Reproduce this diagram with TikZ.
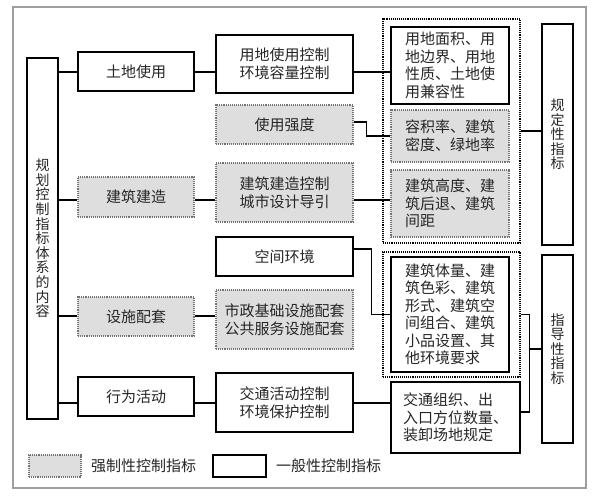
\documentclass[tikz,border=0pt]{standalone}
\usepackage{fontspec}
\setmainfont{Noto Sans CJK SC}
\begin{document}
\begin{tikzpicture}[x=1pt,y=-1pt,
  txt/.style={text=black!85, font=\fontsize{15}{18}\selectfont},
  wbox/.style={txt, draw=black, line width=1.1pt, fill=white, inner sep=0pt, align=center},
  gbox/.style={txt, draw=black!55, densely dotted, line width=1.1pt, fill=black!13, inner sep=0pt, align=center},
  grp/.style={draw=black, densely dotted, line width=1.1pt, inner sep=0pt},
  vtxt/.style={font=\fontsize{14}{14.6}\selectfont},
  ltxt/.style={align=left, font=\fontsize{15}{17.5}\selectfont},
  conn/.style={draw=black, line width=1.2pt}
]
\useasboundingbox (0,0) rectangle (598,497);
\fill[white] (0,0) rectangle (598,497);
\draw[black!38, line width=1.4pt] (13,7) rectangle (586,488);

% groups
\node[grp, minimum width=137pt, minimum height=224pt] (g1) at (451.5,131) {};
\node[grp, minimum width=137pt, minimum height=125pt] (g2) at (451.5,314.5) {};

% main
\node[wbox, vtxt, minimum width=31pt, minimum height=361pt] (main) at (42.5,238.5) {规\\划\\控\\制\\指\\标\\体\\系\\的\\内\\容};

% column 2
\node[wbox, minimum width=116pt, minimum height=39pt] (c2a) at (136,71.5) {土地使用};
\node[gbox, minimum width=116pt, minimum height=40pt] (c2b) at (136,197) {建筑建造};
\node[gbox, minimum width=116pt, minimum height=39pt] (c2c) at (136,316.5) {设施配套};
\node[wbox, minimum width=116pt, minimum height=39pt] (c2d) at (136,396.5) {行为活动};

% column 3
\node[wbox, minimum width=137pt, minimum height=58pt] (c3a) at (284.5,64) {用地使用控制\\环境容量控制};
\node[gbox, minimum width=137pt, minimum height=39pt] (c3b) at (284.5,124.5) {使用强度};
\node[gbox, minimum width=137pt, minimum height=59pt] (c3c) at (284.5,192.5) {建筑建造控制\\城市设计导引};
\node[wbox, minimum width=137pt, minimum height=39pt] (c3d) at (284.5,256.5) {空间环境};
\node[gbox, minimum width=137pt, minimum height=59pt] (c3e) at (284.5,319.5) {市政基础设施配套\\公共服务设施配套};
\node[wbox, minimum width=137pt, minimum height=59pt] (c3f) at (284.5,402.5) {交通活动控制\\环境保护控制};

% column 4
\node[wbox, ltxt, minimum width=118pt, minimum height=77pt] (c4a) at (450,65.5) {用地面积、用\\地边界、用地\\性质、土地使\\用兼容性};
\node[gbox, ltxt, minimum width=118pt, minimum height=52pt] (c4b) at (450,136) {容积率、建筑\\密度、绿地率};
\node[gbox, ltxt, minimum width=118pt, minimum height=67pt] (c4c) at (450,203.5) {建筑高度、建\\筑后退、建筑\\间距\phantom{、建筑}};
\node[wbox, ltxt, minimum width=118pt, minimum height=115pt] (c4d) at (450,314.5) {建筑体量、建\\筑色彩、建筑\\形式、建筑空\\间组合、建筑\\小品设置、其\\他环境要求};
\node[wbox, ltxt, minimum width=129pt, minimum height=71pt] (c4e) at (455.5,417.5) {交通组织、出\\入口方位数量、\\装卸场地规定};

% right
\node[wbox, vtxt, minimum width=31pt, minimum height=221pt] (r1) at (557.5,134.5) {规\\定\\性\\指\\标};
\node[wbox, vtxt, minimum width=31pt, minimum height=188pt] (r2) at (557.5,349) {指\\导\\性\\指\\标};

% legend
\node[gbox, minimum width=52pt, minimum height=22pt] (lg) at (55,466) {};
\node[txt, anchor=west, inner sep=0pt] (lgt) at (91,466) {强制性控制指标};
\node[wbox, minimum width=53pt, minimum height=22pt] (lw) at (239.5,466) {};
\node[txt, anchor=west, inner sep=0pt] (lwt) at (276,466) {一般性控制指标};

% row coordinates
\coordinate (yA) at (0,72);
\coordinate (yB) at (0,200);
\coordinate (yC) at (0,316);
\coordinate (yD) at (0,403);
\coordinate (yE) at (0,412);

% connectors
\draw[conn] (main.east |- yA) -- (c2a.west |- yA);
\draw[conn] (main.east |- yB) -- (c2b.west |- yB);
\draw[conn] (main.east |- yC) -- (c2c.west |- yC);
\draw[conn] (main.east |- yD) -- (c2d.west |- yD);

\draw[conn] (c2a.east |- yA) -- (c3a.west |- yA);
\draw[conn] (c2b.east |- yB) -- (c3c.west |- yB);
\draw[conn] (c2c.east |- yC) -- (c3e.west |- yC);
\draw[conn] (c2d.east |- yD) -- (c3f.west |- yD);

\draw[conn] (c3a.east |- yA) -- (c4a.west |- yA);
\draw[conn] ([yshift=2.5pt]c3b.east) -- ++(13,0) |- (c4b.west);
\draw[conn] (c3c.east |- yB) -- (c4c.west |- yB);
\draw[conn] ([yshift=7.5pt]c3d.east) -- ++(18,0) |- (c4d.west);
\draw[conn] (c3f.east |- yD) -- (c4e.west |- yD);

\draw[conn] (g1.east) -- (g1.east -| r1.west);
\draw[conn] (g2.east) -- ++(9,0) coordinate (bk) |- (c4e.east |- yE);
\draw[conn] (bk |- r2.west) -- (r2.west);
\end{tikzpicture}
\end{document}
